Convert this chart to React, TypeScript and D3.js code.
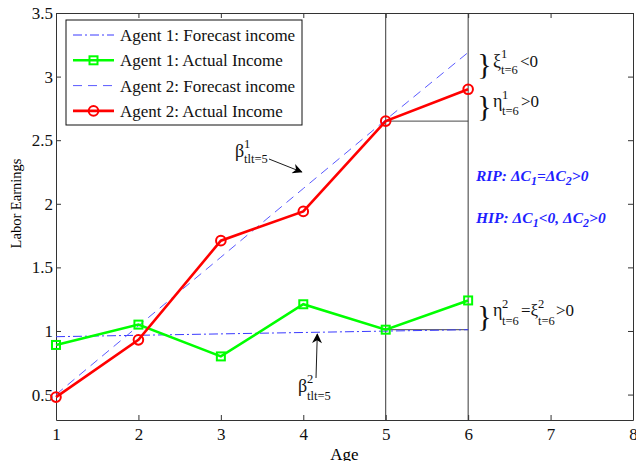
import React, { useEffect, useRef } from "react";
import * as d3 from "d3";

// chart data
const ages = [1, 2, 3, 4, 5, 6];
const agent1Forecast = [0.955, 0.966, 0.977, 0.988, 0.999, 1.01];
const agent1Actual = [0.89, 1.05, 0.8, 1.21, 1.01, 1.24];
const agent2Forecast = [0.5, 1.04, 1.58, 2.12, 2.66, 3.19];
const agent2Actual = [0.48, 0.93, 1.71, 1.94, 2.65, 2.9];
const xTicks = [1, 2, 3, 4, 5, 6, 7, 8];
const yTicks = [0.5, 1, 1.5, 2, 2.5, 3, 3.5];
const legendLabels = [
  "Agent 1: Forecast income",
  "Agent 1: Actual Income",
  "Agent 2: Forecast income",
  "Agent 2: Actual Income",
];
const markedAges = [5, 6];

const FONT = "'Liberation Serif', 'Times New Roman', serif";
const W = 636;
const H = 461;

export default function App() {
  const ref = useRef<SVGSVGElement>(null);

  useEffect(() => {
    const svg = d3.select(ref.current);
    svg.selectAll("*").remove();

    const x = d3.scaleLinear().domain([1, 8]).range([56, 633]);
    const y = d3.scaleLinear().domain([0.3, 3.5]).range([420, 13]);
    const [x0, x1] = x.range();
    const [y0, y1] = y.range();

    svg.append("rect").attr("width", W).attr("height", H).attr("fill", "#fff");

    // reference lines at t=5 and t=6
    svg
      .selectAll("line.vref")
      .data(markedAges)
      .join("line")
      .attr("class", "vref")
      .attr("x1", (d) => x(d))
      .attr("x2", (d) => x(d))
      .attr("y1", y0)
      .attr("y2", y1)
      .attr("stroke", "#222")
      .attr("stroke-width", 0.9);

    const i5 = ages.indexOf(5);
    [agent2Actual[i5], agent1Actual[i5]].forEach((v) => {
      svg
        .append("line")
        .attr("x1", x(5))
        .attr("x2", x(6))
        .attr("y1", y(v))
        .attr("y2", y(v))
        .attr("stroke", "#333")
        .attr("stroke-width", 0.9);
    });

    // axes
    const fmt = d3.format("");
    const bottom = svg
      .append("g")
      .attr("transform", `translate(0,${y0})`)
      .call(d3.axisBottom(x).tickValues(xTicks).tickFormat(fmt).tickSize(-5).tickSizeOuter(0).tickPadding(8));
    const left = svg
      .append("g")
      .attr("transform", `translate(${x0},0)`)
      .call(d3.axisLeft(y).tickValues(yTicks).tickFormat(fmt).tickSize(-5).tickSizeOuter(0).tickPadding(3));
    const top = svg
      .append("g")
      .attr("transform", `translate(0,${y1})`)
      .call(d3.axisTop(x).tickValues(xTicks).tickFormat(() => "").tickSize(-5).tickSizeOuter(0));
    const right = svg
      .append("g")
      .attr("transform", `translate(${x1},0)`)
      .call(d3.axisRight(y).tickValues(yTicks).tickFormat(() => "").tickSize(-5).tickSizeOuter(0));
    [bottom, left, top, right].forEach((g) => {
      g.selectAll("path,line").attr("stroke", "#333");
      g.selectAll("text").attr("font-family", FONT).attr("font-size", 17).attr("fill", "#111");
    });

    const line = d3
      .line<number>()
      .x((_, i) => x(ages[i]))
      .y((d) => y(d));

    // forecasts
    svg
      .append("path")
      .attr("d", line(agent1Forecast))
      .attr("fill", "none")
      .attr("stroke", "#3a3aff")
      .attr("stroke-width", 1)
      .attr("stroke-dasharray", "9,3,2,3");
    svg
      .append("path")
      .attr("d", line(agent2Forecast))
      .attr("fill", "none")
      .attr("stroke", "#5a5aff")
      .attr("stroke-width", 1)
      .attr("stroke-dasharray", "9,6");

    // actual: agent 1
    svg
      .append("path")
      .attr("d", line(agent1Actual))
      .attr("fill", "none")
      .attr("stroke", "#00ff00")
      .attr("stroke-width", 2.6);
    svg
      .selectAll("rect.m1")
      .data(agent1Actual)
      .join("rect")
      .attr("class", "m1")
      .attr("x", (_, i) => x(ages[i]) - 4)
      .attr("y", (d) => y(d) - 4)
      .attr("width", 8)
      .attr("height", 8)
      .attr("fill", "none")
      .attr("stroke", "#00ff00")
      .attr("stroke-width", 2);

    // actual: agent 2
    svg
      .append("path")
      .attr("d", line(agent2Actual))
      .attr("fill", "none")
      .attr("stroke", "#ff0000")
      .attr("stroke-width", 2.6);
    svg
      .selectAll("circle.m2")
      .data(agent2Actual)
      .join("circle")
      .attr("class", "m2")
      .attr("cx", (_, i) => x(ages[i]))
      .attr("cy", (d) => y(d))
      .attr("r", 4.8)
      .attr("fill", "none")
      .attr("stroke", "#ff0000")
      .attr("stroke-width", 2);

    // axis titles
    svg
      .append("text")
      .attr("x", (x0 + x1) / 2)
      .attr("y", 460)
      .attr("text-anchor", "middle")
      .attr("font-family", FONT)
      .attr("font-size", 17)
      .text("Age");
    svg
      .append("text")
      .attr("transform", `translate(21,${(y0 + y1) / 2 - 13}) rotate(-90)`)
      .attr("text-anchor", "middle")
      .attr("font-family", FONT)
      .attr("font-size", 14.5)
      .text("Labor Earnings");

    // annotation helper
    const txt = (px: number, py: number, s: string, size = 17) =>
      svg
        .append("text")
        .attr("x", px)
        .attr("y", py)
        .attr("font-family", FONT)
        .attr("font-size", size)
        .attr("fill", "#111")
        .text(s);

    // braces
    const bx = x(6) + 9;
    [74, 116, 326].forEach((by) => {
      txt(bx, by, "}", 30);
    });

    // xi^1_{t=6}<0
    txt(493, 67, "ξ", 18);
    txt(501, 58, "1", 12.5);
    txt(501, 74, "t=6", 12.5);
    txt(520, 67, "<0", 17);

    // eta^1_{t=6}>0
    txt(493, 107, "η", 18);
    txt(502, 99, "1", 12.5);
    txt(502, 115, "t=6", 12.5);
    txt(521, 107, ">0", 17);

    // eta^2_{t=6}=xi^2_{t=6}>0
    txt(493, 316, "η", 18);
    txt(502, 308, "2", 12.5);
    txt(502, 325, "t=6", 12.5);
    txt(521, 316, "=ξ", 17);
    txt(538, 308, "2", 12.5);
    txt(538, 325, "t=6", 12.5);
    txt(556, 316, ">0", 17);

    // beta labels
    txt(235, 157, "β", 18);
    txt(244, 148, "1", 12.5);
    txt(244, 163, "tlt=5", 12.5);
    txt(298, 392, "β", 18);
    txt(307, 383, "2", 12.5);
    txt(307, 400, "tlt=5", 12.5);

    // arrows
    const defs = svg.append("defs");
    defs
      .append("marker")
      .attr("id", "arr")
      .attr("viewBox", "0 0 10 10")
      .attr("refX", 9)
      .attr("refY", 5)
      .attr("markerWidth", 14)
      .attr("markerHeight", 10)
      .attr("markerUnits", "userSpaceOnUse")
      .attr("orient", "auto")
      .append("path")
      .attr("d", "M0,0 L10,5 L0,10 L3,5 Z")
      .attr("fill", "#000");
    svg
      .append("line")
      .attr("x1", 269)
      .attr("y1", 159)
      .attr("x2", x(3.98))
      .attr("y2", y(2.25))
      .attr("stroke", "#000")
      .attr("stroke-width", 0.9)
      .attr("marker-end", "url(#arr)");
    svg
      .append("line")
      .attr("x1", 316)
      .attr("y1", 378)
      .attr("x2", x(4.17))
      .attr("y2", y(0.975))
      .attr("stroke", "#000")
      .attr("stroke-width", 0.9)
      .attr("marker-end", "url(#arr)");

    // RIP / HIP notes
    const note = (py: number, parts: [string, number][]) => {
      const t = svg
        .append("text")
        .attr("x", 476)
        .attr("y", py)
        .attr("font-family", FONT)
        .attr("font-size", 15.5)
        .attr("font-weight", "bold")
        .attr("font-style", "italic")
        .attr("fill", "#1f1fff");
      parts.forEach(([s, dy]) => {
        t.append("tspan")
          .attr("dy", dy)
          .attr("font-size", dy > 0 ? 12 : 15.5)
          .text(s);
      });
    };
    note(181, [["RIP: ΔC", 0], ["1", 4], ["=ΔC", -4], ["2", 4], [">0", -4]]);
    note(223, [["HIP: ΔC", 0], ["1", 4], ["<0, ΔC", -4], ["2", 4], [">0", -4]]);

    // legend
    const lg = svg.append("g");
    lg.append("rect")
      .attr("x", 66)
      .attr("y", 20)
      .attr("width", 236)
      .attr("height", 105)
      .attr("fill", "#fff")
      .attr("stroke", "#111")
      .attr("stroke-width", 1);
    const styles = [
      { c: "#3a3aff", w: 1, dash: "9,3,2,3", m: "" },
      { c: "#00ff00", w: 2.6, dash: "", m: "sq" },
      { c: "#5a5aff", w: 1, dash: "9,6", m: "" },
      { c: "#ff0000", w: 2.6, dash: "", m: "ci" },
    ];
    legendLabels.forEach((lab, i) => {
      const ly = 35 + i * 25.3;
      const s = styles[i];
      lg.append("line")
        .attr("x1", 73)
        .attr("x2", 114)
        .attr("y1", ly)
        .attr("y2", ly)
        .attr("stroke", s.c)
        .attr("stroke-width", s.w)
        .attr("stroke-dasharray", s.dash || null);
      if (s.m === "sq") {
        lg.append("rect")
          .attr("x", 89.5)
          .attr("y", ly - 4)
          .attr("width", 8)
          .attr("height", 8)
          .attr("fill", "none")
          .attr("stroke", s.c)
          .attr("stroke-width", 2);
      } else if (s.m === "ci") {
        lg.append("circle")
          .attr("cx", 93.5)
          .attr("cy", ly)
          .attr("r", 4.8)
          .attr("fill", "none")
          .attr("stroke", s.c)
          .attr("stroke-width", 2);
      }
      lg.append("text")
        .attr("x", 120)
        .attr("y", ly + 6)
        .attr("font-family", FONT)
        .attr("font-size", 17)
        .attr("fill", "#111")
        .text(lab);
    });
  }, []);

  return (
    <svg
      ref={ref}
      width={W}
      height={H}
      style={{ position: "absolute", left: 0, top: 0, display: "block" }}
    />
  );
}
